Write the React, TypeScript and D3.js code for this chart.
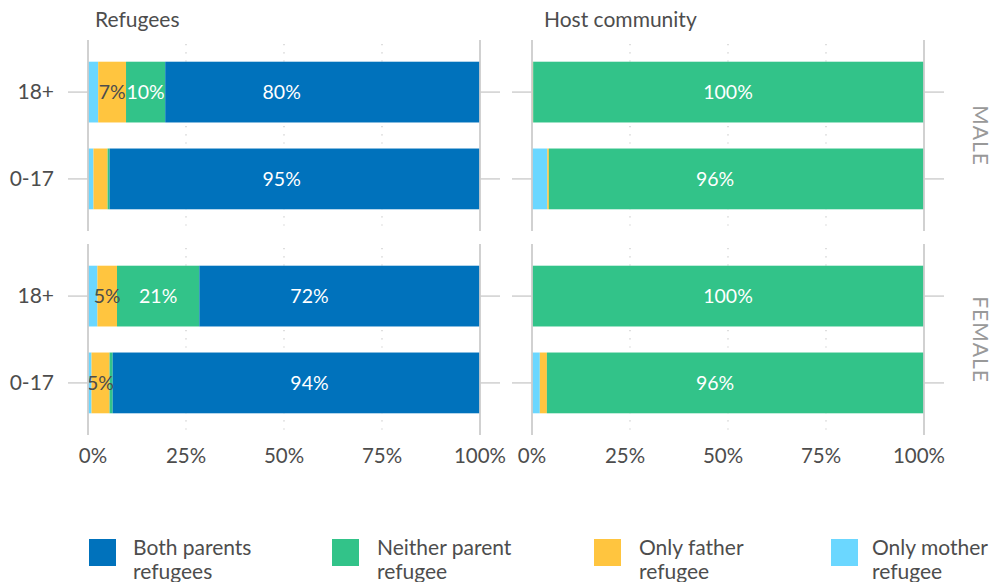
import React from "react";
import * as d3 from "d3";

// ---- data ----
const groups = ["Refugees", "Host community"];
const sexes = ["MALE", "FEMALE"];
const ages = ["18+", "0-17"];
const categories = [
  "Only mother refugee",
  "Only father refugee",
  "Neither parent refugee",
  "Both parents refugees",
];
const legendOrder = [
  "Both parents refugees",
  "Neither parent refugee",
  "Only father refugee",
  "Only mother refugee",
];
// rows: Refugees M18+, M0-17, F18+, F0-17, Host M18+, M0-17, F18+, F0-17
const onlyMother = [2.6, 1.4, 2.4, 0.9, 0, 3.9, 0, 2.0];
const onlyFather = [7.1, 3.6, 5.0, 4.6, 0.3, 0.4, 0, 1.8];
const neither = [10.0, 0.5, 21.0, 0.8, 99.7, 95.7, 100, 96.2];
const both = [80.3, 94.5, 71.6, 93.7, 0, 0, 0, 0];
// position (in %) at which the main label of each row is printed
const mainLabelAt = [49.4, 49.4, 56.5, 56.5, 50, 46.7, 50, 46.7];
const xTicks = [0, 25, 50, 75, 100];

const seriesValues: Record<string, number[]> = {
  "Only mother refugee": onlyMother,
  "Only father refugee": onlyFather,
  "Neither parent refugee": neither,
  "Both parents refugees": both,
};

const colors: Record<string, string> = {
  "Both parents refugees": "#0072BC",
  "Neither parent refugee": "#32C389",
  "Only father refugee": "#FFC53F",
  "Only mother refugee": "#6BD7FF",
};
const labelColors: Record<string, string> = {
  "Both parents refugees": "#ffffff",
  "Neither parent refugee": "#ffffff",
  "Only father refugee": "#4d4d4d",
  "Only mother refugee": "#4d4d4d",
};

const W = 993;
const H = 582;
const FONT = "Lato, 'Noto Sans', sans-serif";
const TEXT = "#4d4d4d";
const GRID = "#cccccc";

const panelXRanges: [number, number][] = [
  [88, 480],
  [532, 924],
];
const panelYRanges: [number, number][] = [
  [40, 231],
  [244, 435],
];
const headerX = [95, 544];
const tickLen = 20;

export default function App() {
  const legendX = [89, 332, 594, 831];
  const legendTextDx = [44, 45, 45, 41];

  return (
    <div style={{ position: "absolute", left: 0, top: 0 }}>
      <svg width={W} height={H} style={{ display: "block", fontFamily: FONT }}>
        <rect width={W} height={H} fill="#ffffff" />
        {groups.map((g, gi) => {
          const x = d3.scaleLinear().domain([0, 100]).range(panelXRanges[gi]);
          return (
            <g key={g}>
              <text x={headerX[gi]} y={27} fontSize={21} fill={TEXT}>
                {g}
              </text>
              {sexes.map((s, si) => {
                const y = d3
                  .scaleBand<string>()
                  .domain(ages)
                  .range(panelYRanges[si])
                  .paddingInner(0.3)
                  .paddingOuter(0.25);
                const [y0, y1] = panelYRanges[si];
                return (
                  <g key={s}>
                    {[25, 50, 75].map((t) => (
                      <line
                        key={t}
                        x1={x(t)}
                        x2={x(t)}
                        y1={y0 + 4}
                        y2={y1}
                        stroke="#c8c8c8"
                        strokeWidth={1.2}
                        strokeDasharray="1.2 7"
                      />
                    ))}
                    {ages.map((a) => {
                      const cy = (y(a) as number) + y.bandwidth() / 2;
                      return (
                        <g key={a}>
                          <line
                            x1={x(0) - tickLen}
                            x2={x(0)}
                            y1={cy}
                            y2={cy}
                            stroke="#d0d0d0"
                            strokeWidth={1.5}
                          />
                          <line
                            x1={x(100)}
                            x2={x(100) + tickLen}
                            y1={cy}
                            y2={cy}
                            stroke="#d0d0d0"
                            strokeWidth={1.5}
                          />
                          {gi === 0 && (
                            <text
                              x={54}
                              y={cy}
                              dy="0.35em"
                              textAnchor="end"
                              fontSize={21}
                              fill={TEXT}
                            >
                              {a}
                            </text>
                          )}
                        </g>
                      );
                    })}
                    {ages.map((a, ai) => {
                      const row = gi * 4 + si * 2 + ai;
                      let cum = 0;
                      const segs = categories.map((c) => {
                        const v = seriesValues[c][row];
                        const start = cum;
                        cum += v;
                        return { c, v, start, end: cum };
                      });
                      const mainIdx = segs.reduce(
                        (best, sgm, i) => (sgm.v > segs[best].v ? i : best),
                        0
                      );
                      const by = y(a) as number;
                      const bh = y.bandwidth();
                      return (
                        <g key={a}>
                          {segs.map((sgm) =>
                            sgm.v > 0 ? (
                              <rect
                                key={sgm.c}
                                x={x(sgm.start)}
                                width={x(sgm.end) - x(sgm.start)}
                                y={by}
                                height={bh}
                                fill={colors[sgm.c]}
                              />
                            ) : null
                          )}
                          {segs.map((sgm, i) => {
                            const r = Math.round(sgm.v);
                            if (r < 5) return null;
                            const pos =
                              i === mainIdx
                                ? mainLabelAt[row]
                                : (sgm.start + sgm.end) / 2;
                            return (
                              <text
                                key={sgm.c + "-l"}
                                x={x(pos)}
                                y={by + bh / 2}
                                dy="0.35em"
                                textAnchor="middle"
                                fontSize={19.5}
                                fill={labelColors[sgm.c]}
                              >
                                {r + "%"}
                              </text>
                            );
                          })}
                        </g>
                      );
                    })}
                    {[0, 100].map((t) => (
                      <line
                        key={t}
                        x1={x(t)}
                        x2={x(t)}
                        y1={y0}
                        y2={y1}
                        stroke={GRID}
                        strokeWidth={1.8}
                      />
                    ))}
                    {gi === 1 && (
                      <text
                        transform={`translate(${973},${(y0 + y1) / 2}) rotate(90)`}
                        textAnchor="middle"
                        fontSize={21}
                        letterSpacing={1}
                        fill="#999999"
                      >
                        {s}
                      </text>
                    )}
                  </g>
                );
              })}
              {xTicks.map((t) => (
                <text
                  key={t}
                  x={x(t) + (gi === 0 && t === 0 ? 5 : gi === 1 && t > 0 ? -5 : 0)}
                  y={463}
                  textAnchor="middle"
                  fontSize={20.5}
                  fill={TEXT}
                >
                  {t + "%"}
                </text>
              ))}
            </g>
          );
        })}
        {legendOrder.map((c, i) => {
          const words = c.split(" ");
          const line1 = words.slice(0, 2).join(" ");
          const line2 = words.slice(2).join(" ");
          return (
            <g key={c} transform={`translate(${legendX[i]},539)`}>
              <rect width={27} height={27} fill={colors[c]} />
              <text x={legendTextDx[i]} y={16} fontSize={21} fill={TEXT}>
                {line1}
              </text>
              <text x={legendTextDx[i]} y={40} fontSize={21} fill={TEXT}>
                {line2}
              </text>
            </g>
          );
        })}
      </svg>
    </div>
  );
}
